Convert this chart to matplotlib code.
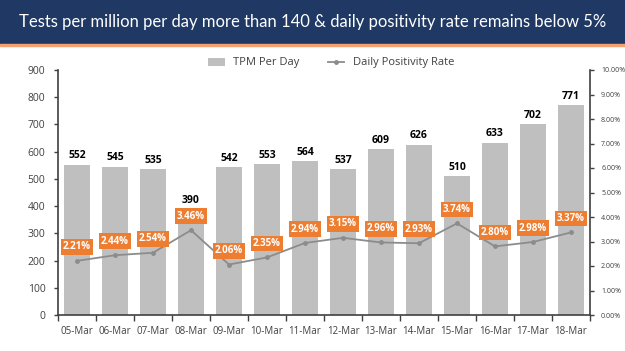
import matplotlib.pyplot as plt
from matplotlib.ticker import FuncFormatter

dates = ['05-Mar', '06-Mar', '07-Mar', '08-Mar', '09-Mar', '10-Mar', '11-Mar',
         '12-Mar', '13-Mar', '14-Mar', '15-Mar', '16-Mar', '17-Mar', '18-Mar']
tpm = [552, 545, 535, 390, 542, 553, 564, 537, 609, 626, 510, 633, 702, 771]
positivity = [2.21, 2.44, 2.54, 3.46, 2.06, 2.35, 2.94, 3.15, 2.96, 2.93, 3.74, 2.80, 2.98, 3.37]

navy = '#1F3864'
orange = '#ED7D31'
bar_grey = '#BFBFBF'
line_grey = '#8C8C8C'
txt = '#404040'

plt.rcParams['font.family'] = ['Open Sans', 'DejaVu Sans']

fig = plt.figure(figsize=(6.25, 3.51), dpi=100)

# title banner
banner = fig.add_axes([0, 1 - 44 / 351, 1, 44 / 351])
banner.set_facecolor(navy)
banner.set_xticks([])
banner.set_yticks([])
for s in banner.spines.values():
    s.set_visible(False)
banner.text(0.5, 0.5, 'Tests per million per day more than 140 & daily positivity rate remains below 5%',
            color='white', fontsize=12, ha='center', va='center', family='Lato')
fig.patches.append(plt.Rectangle((0, 1 - 46 / 351), 1, 2 / 351, transform=fig.transFigure,
                                 color='#F4A070', zorder=5))

ax = fig.add_axes([58 / 625, 1 - 315 / 351, 532 / 625, 245 / 351])
x = range(len(dates))
bars = ax.bar(x, tpm, width=0.7, color=bar_grey, label='TPM Per Day')
for i, v in enumerate(tpm):
    ax.text(i, v + 12, str(v), ha='center', va='bottom', fontsize=7.5, fontweight='bold', color='black')

ax.set_ylim(0, 900)
ax.set_yticks(range(0, 901, 100))
ax.set_xlim(-0.5, len(dates) - 0.5)
ax.set_xticks(list(x))
ax.set_xticklabels(dates)
ax.tick_params(axis='y', labelsize=7.5, colors=txt, length=3, width=1, pad=6)
ax.tick_params(axis='x', labelsize=7, colors=txt, length=3, width=1, pad=8)
ax.set_xticks([i - 0.5 for i in range(len(dates) + 1)], minor=True)
ax.tick_params(axis='x', which='major', length=0)
ax.tick_params(axis='x', which='minor', length=4, width=1, color=txt)
for s in ['top', 'right']:
    ax.spines[s].set_visible(False)
ax.spines['left'].set_color(txt)
ax.spines['bottom'].set_color(txt)
ax.spines['left'].set_linewidth(1.2)
ax.spines['bottom'].set_linewidth(1.2)

ax2 = ax.twinx()
line, = ax2.plot(list(x), positivity, color=line_grey, lw=1.3, marker='o', markersize=2.5,
                 label='Daily Positivity Rate')
ax2.set_ylim(0, 10)
ax2.set_yticks(range(0, 11))
ax2.yaxis.set_major_formatter(FuncFormatter(lambda v, p: f'{v:.2f}%'))
ax2.tick_params(axis='y', labelsize=5, colors=txt, length=3, width=1, pad=5)
for s in ['top', 'left', 'bottom']:
    ax2.spines[s].set_visible(False)
ax2.spines['right'].set_color(txt)
ax2.spines['right'].set_linewidth(1.2)
for i, v in enumerate(positivity):
    ax2.annotate(f'{v:.2f}%', (i, v), xytext=(0, 10), textcoords='offset points',
                 ha='center', va='center', fontsize=7, fontweight='bold', color='white',
                 bbox=dict(boxstyle='square,pad=0.25', fc=orange, ec='none'))

fig.legend(handles=[bars, line], loc='center', bbox_to_anchor=(0.53, 1 - 63 / 351), ncol=2,
           frameon=False, fontsize=8, handlelength=1.5, columnspacing=2.5, labelcolor=txt)

fig.savefig('out.png', dpi=100)
